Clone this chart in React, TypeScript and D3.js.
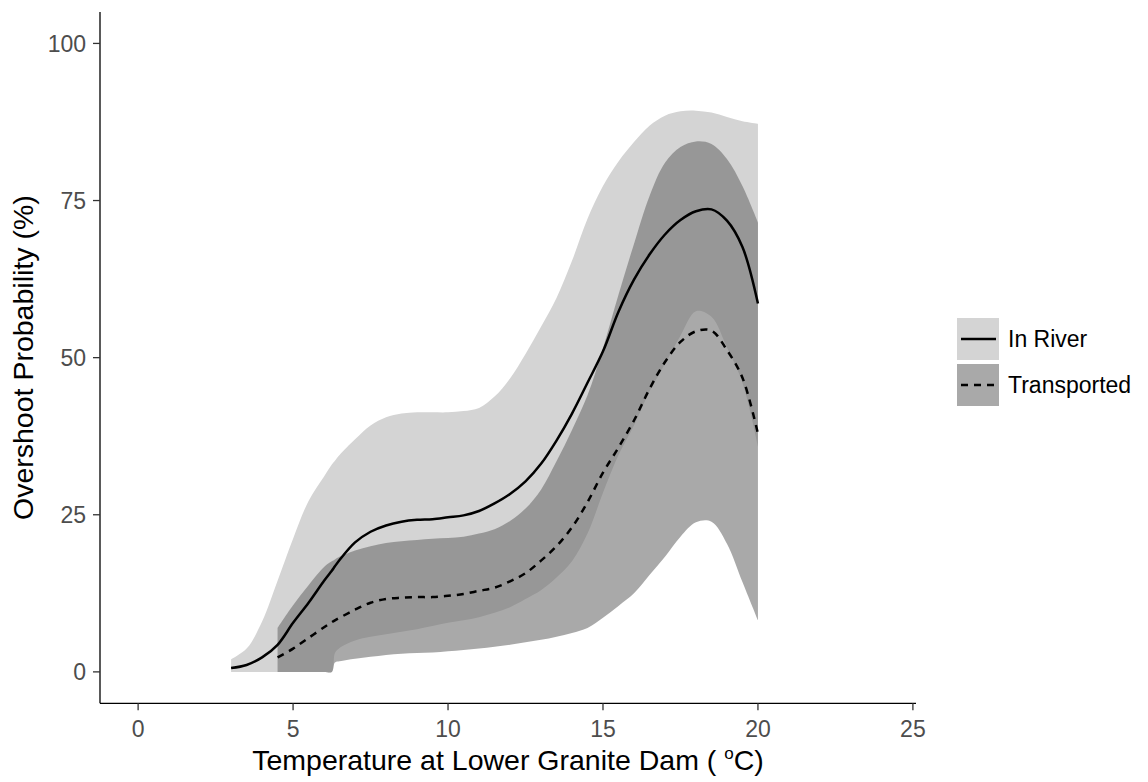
import React from "react";
import * as d3 from "d3";

// Temperature grid (°C) and predicted overshoot probability (%) for fish that migrated in-river
const tempInRiver = [3, 3.5, 4, 4.5, 5, 5.5, 6, 6.25, 6.35, 6.5, 7, 7.5, 8, 8.5, 9, 9.5, 10, 10.5, 11, 11.5, 12, 12.5, 13, 13.5, 14, 14.5, 15, 15.5, 16, 16.5, 17, 17.5, 18, 18.5, 19, 19.5, 20];
const inRiverMean = [0.6, 1.1, 2.3, 4.3, 7.8, 11.0, 14.5, 16.1, 16.8, 17.8, 20.6, 22.3, 23.3, 23.9, 24.2, 24.3, 24.6, 24.9, 25.6, 26.8, 28.3, 30.3, 33.1, 36.8, 41.1, 46.0, 51.0, 57.3, 62.4, 66.4, 69.6, 71.9, 73.3, 73.6, 71.8, 67.6, 58.6];
const inRiverUpper = [2.0, 3.7, 8.0, 14.5, 21.2, 27.2, 31.1, 33.0, 33.6, 34.5, 37.0, 39.2, 40.5, 41.1, 41.3, 41.3, 41.3, 41.5, 42.0, 43.8, 46.7, 50.6, 54.9, 59.5, 65.4, 72.1, 77.3, 81.2, 84.3, 86.9, 88.5, 89.2, 89.3, 89.0, 88.3, 87.6, 87.2];
const inRiverLower = [0, 0, 0, 0, 0, 0, 0, 0, 3.0, 3.8, 5.0, 5.6, 6.0, 6.4, 6.8, 7.3, 7.8, 8.2, 8.7, 9.4, 10.3, 11.6, 13.0, 15.0, 17.6, 22.0, 28.5, 34.5, 39.2, 44.6, 49.0, 53.5, 57.4, 56.5, 51.6, 46.0, 35.8];

// Same quantities for transported fish
const tempTransported = [4.5, 5, 5.5, 6, 6.25, 6.35, 6.5, 7, 7.5, 8, 8.5, 9, 9.5, 10, 10.5, 11, 11.5, 12, 12.5, 13, 13.5, 14, 14.5, 15, 15.5, 16, 16.5, 17, 17.5, 18, 18.5, 19, 19.5, 20];
const transportedMean = [2.3, 3.7, 5.4, 7.1, 7.9, 8.2, 8.6, 9.9, 11.0, 11.6, 11.8, 11.9, 11.9, 12.1, 12.4, 12.9, 13.4, 14.4, 15.7, 17.7, 20.0, 23.0, 27.0, 31.7, 35.7, 40.0, 45.0, 49.3, 52.5, 54.2, 54.3, 51.2, 46.8, 37.9];
const transportedUpper = [7.0, 10.6, 13.8, 16.7, 17.6, 17.9, 18.3, 19.3, 20.0, 20.5, 20.8, 21.0, 21.2, 21.3, 21.5, 22.0, 22.7, 24.0, 26.0, 29.0, 33.5, 38.5, 44.0, 51.5, 60.0, 68.1, 75.7, 81.0, 83.5, 84.4, 84.0, 81.6, 77.3, 71.5];
const transportedLower = [0, 0, 0, 0, 0, 1.5, 1.7, 2.1, 2.4, 2.7, 2.9, 3.0, 3.1, 3.3, 3.5, 3.7, 4.0, 4.3, 4.7, 5.1, 5.6, 6.2, 7.0, 8.6, 10.5, 12.5, 15.4, 18.3, 21.5, 23.8, 23.9, 20.4, 14.3, 8.2];

const xTicks = [0, 5, 10, 15, 20, 25];
const yTicks = [0, 25, 50, 75, 100];
const legendLabels = ["In River", "Transported"];

const W = 1148;
const H = 782;
const FONT = "'Liberation Sans', Arial, Helvetica, sans-serif";

const IR_FILL = "#d4d4d4";
const TR_FILL = "#6b6b6b";
const TR_ALPHA = 0.58;

export default function App() {
  const x = d3.scaleLinear().domain([-1.23, 25.1]).range([100, 916]);
  const y = d3.scaleLinear().domain([-5, 105]).range([703.3, 12]);
  const curve = d3.curveCatmullRom.alpha(0.5);

  const band = (t: number[], lo: number[], hi: number[]) =>
    d3
      .area<number>()
      .x((i) => x(t[i]))
      .y0((i) => y(lo[i]))
      .y1((i) => y(hi[i]))
      .curve(curve)(d3.range(t.length)) as string;

  const line = (t: number[], v: number[]) =>
    d3
      .line<number>()
      .x((i) => x(t[i]))
      .y((i) => y(v[i]))
      .curve(curve)(d3.range(t.length)) as string;

  const [x0, x1] = x.range();
  const [yb, yt] = y.range();

  return (
    <svg
      width={W}
      height={H}
      style={{ position: "absolute", left: 0, top: 0, background: "#fff" }}
      fontFamily={FONT}
    >
      <rect width={W} height={H} fill="#fff" />

      {/* confidence ribbons */}
      <path d={band(tempInRiver, inRiverLower, inRiverUpper)} fill={IR_FILL} />
      <path
        d={band(tempTransported, transportedLower, transportedUpper)}
        fill={TR_FILL}
        fillOpacity={TR_ALPHA}
      />

      {/* fitted curves */}
      <path
        d={line(tempInRiver, inRiverMean)}
        fill="none"
        stroke="#000"
        strokeWidth={2.5}
      />
      <path
        d={line(tempTransported, transportedMean)}
        fill="none"
        stroke="#000"
        strokeWidth={2.5}
        strokeDasharray="7 6"
      />

      {/* axes */}
      <line x1={x0} x2={x0} y1={yt} y2={yb} stroke="#000" strokeWidth={1.3} />
      <line x1={x0} x2={x1} y1={yb} y2={yb} stroke="#000" strokeWidth={1.3} />
      {yTicks.map((v) => (
        <g key={"y" + v}>
          <line x1={x0 - 7} x2={x0} y1={y(v)} y2={y(v)} stroke="#333" strokeWidth={1.3} />
          <text
            x={x0 - 14}
            y={y(v)}
            dy="0.36em"
            textAnchor="end"
            fontSize={23}
            fill="#4d4d4d"
          >
            {v}
          </text>
        </g>
      ))}
      {xTicks.map((v) => (
        <g key={"x" + v}>
          <line x1={x(v)} x2={x(v)} y1={yb} y2={yb + 7} stroke="#333" strokeWidth={1.3} />
          <text x={x(v)} y={737} textAnchor="middle" fontSize={23} fill="#4d4d4d">
            {v}
          </text>
        </g>
      ))}

      {/* axis titles */}
      <text x={(x0 + x1) / 2} y={770} textAnchor="middle" fontSize={28.5} fill="#000">
        Temperature at Lower Granite Dam ({" "}
        <tspan fontSize={17} dy={-11}>
          o
        </tspan>
        <tspan dy={11}>C)</tspan>
      </text>
      <text
        transform={`translate(33, ${(yt + yb) / 2}) rotate(-90)`}
        textAnchor="middle"
        fontSize={28.5}
        fill="#000"
      >
        Overshoot Probability (%)
      </text>

      {/* legend */}
      {legendLabels.map((lab, i) => {
        const top = 318 + i * 46;
        const cy = top + 21;
        return (
          <g key={lab}>
            <rect x={957} y={top} width={42} height={42} fill="#fff" />
            <rect
              x={957}
              y={top}
              width={42}
              height={42}
              fill={i === 0 ? IR_FILL : TR_FILL}
              fillOpacity={i === 0 ? 1 : TR_ALPHA}
            />
            <line
              x1={961}
              x2={996}
              y1={cy}
              y2={cy}
              stroke="#000"
              strokeWidth={2.5}
              strokeDasharray={i === 0 ? undefined : "7 6"}
            />
            <text x={1008} y={cy} dy="0.36em" fontSize={23} fill="#000">
              {lab}
            </text>
          </g>
        );
      })}
    </svg>
  );
}
